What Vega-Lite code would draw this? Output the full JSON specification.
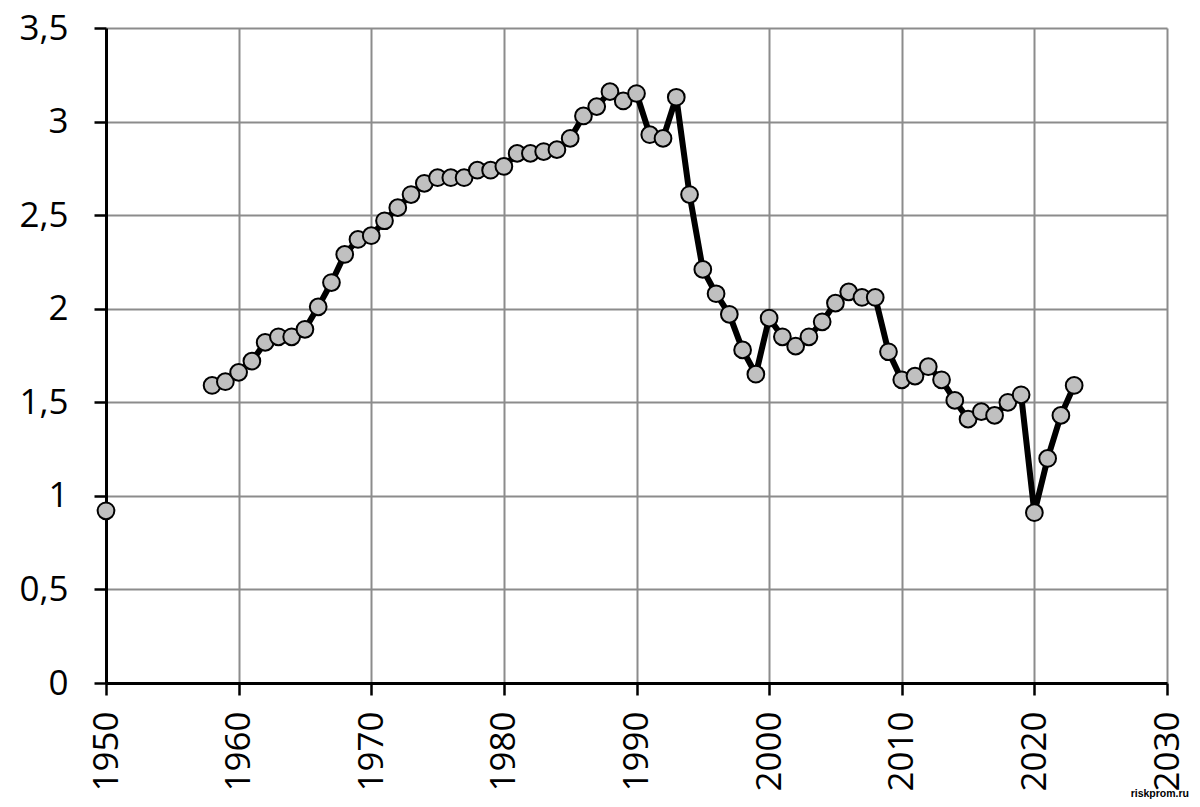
{
  "$schema": "https://vega.github.io/schema/vega-lite/v6.json",
  "width": 1061,
  "height": 655,
  "autosize": {"type": "none"},
  "padding": {"left": 106, "top": 28, "right": 33, "bottom": 124},
  "background": "white",
  "config": {
    "locale": {"number": {"decimal": ",", "thousands": " ", "grouping": [3], "currency": ["", ""]}},
    "view": {"stroke": null},
    "font": "Open Sans"
  },
  "title": {"text": "riskprom.ru", "orient": "bottom", "anchor": "end", "fontSize": 10.5, "fontWeight": "bold", "font": "Liberation Sans", "color": "black", "dx": 4, "dy": -6},
  "data": {"values": [
    {"year": 1950, "value": 0.92},
    {"year": 1958, "value": 1.59},
    {"year": 1959, "value": 1.61},
    {"year": 1960, "value": 1.66},
    {"year": 1961, "value": 1.72},
    {"year": 1962, "value": 1.82},
    {"year": 1963, "value": 1.85},
    {"year": 1964, "value": 1.85},
    {"year": 1965, "value": 1.89},
    {"year": 1966, "value": 2.01},
    {"year": 1967, "value": 2.14},
    {"year": 1968, "value": 2.29},
    {"year": 1969, "value": 2.37},
    {"year": 1970, "value": 2.39},
    {"year": 1971, "value": 2.47},
    {"year": 1972, "value": 2.54},
    {"year": 1973, "value": 2.61},
    {"year": 1974, "value": 2.67},
    {"year": 1975, "value": 2.70},
    {"year": 1976, "value": 2.70},
    {"year": 1977, "value": 2.70},
    {"year": 1978, "value": 2.74},
    {"year": 1979, "value": 2.74},
    {"year": 1980, "value": 2.76},
    {"year": 1981, "value": 2.83},
    {"year": 1982, "value": 2.83},
    {"year": 1983, "value": 2.84},
    {"year": 1984, "value": 2.85},
    {"year": 1985, "value": 2.91},
    {"year": 1986, "value": 3.03},
    {"year": 1987, "value": 3.08},
    {"year": 1988, "value": 3.16},
    {"year": 1989, "value": 3.11},
    {"year": 1990, "value": 3.15},
    {"year": 1991, "value": 2.93},
    {"year": 1992, "value": 2.91},
    {"year": 1993, "value": 3.13},
    {"year": 1994, "value": 2.61},
    {"year": 1995, "value": 2.21},
    {"year": 1996, "value": 2.08},
    {"year": 1997, "value": 1.97},
    {"year": 1998, "value": 1.78},
    {"year": 1999, "value": 1.65},
    {"year": 2000, "value": 1.95},
    {"year": 2001, "value": 1.85},
    {"year": 2002, "value": 1.80},
    {"year": 2003, "value": 1.85},
    {"year": 2004, "value": 1.93},
    {"year": 2005, "value": 2.03},
    {"year": 2006, "value": 2.09},
    {"year": 2007, "value": 2.06},
    {"year": 2008, "value": 2.06},
    {"year": 2009, "value": 1.77},
    {"year": 2010, "value": 1.62},
    {"year": 2011, "value": 1.64},
    {"year": 2012, "value": 1.69},
    {"year": 2013, "value": 1.62},
    {"year": 2014, "value": 1.51},
    {"year": 2015, "value": 1.41},
    {"year": 2016, "value": 1.45},
    {"year": 2017, "value": 1.43},
    {"year": 2018, "value": 1.50},
    {"year": 2019, "value": 1.54},
    {"year": 2020, "value": 0.91},
    {"year": 2021, "value": 1.20},
    {"year": 2022, "value": 1.43},
    {"year": 2023, "value": 1.59}
  ]},
  "encoding": {
    "x": {
      "field": "year", "type": "quantitative",
      "scale": {"domain": [1950, 2030], "nice": false, "zero": false},
      "axis": {
        "title": null, "values": [1950, 1960, 1970, 1980, 1990, 2000, 2010, 2020, 2030],
        "format": "d", "labelAngle": -90, "labelAlign": "right", "labelBaseline": "middle",
        "labelFontSize": 35, "labelColor": "black", "labelPadding": 16,
        "tickSize": 12, "tickColor": "black", "tickWidth": 2.5,
        "domainColor": "black", "domainWidth": 3,
        "gridColor": "#8c8c8c", "gridWidth": 2, "gridOpacity": 1,
        "labelFlush": false, "labelOverlap": false
      }
    },
    "y": {
      "field": "value", "type": "quantitative",
      "scale": {"domain": [0, 3.5], "nice": false},
      "axis": {
        "title": null, "values": [0, 0.5, 1, 1.5, 2, 2.5, 3, 3.5],
        "format": ".1~f", "labelFontSize": 35, "labelColor": "black", "labelPadding": 26,
        "tickSize": 12, "tickColor": "black", "tickWidth": 2.5,
        "domainColor": "black", "domainWidth": 3,
        "gridColor": "#8c8c8c", "gridWidth": 2, "gridOpacity": 1,
        "labelFlush": false, "labelOverlap": false
      }
    }
  },
  "layer": [
    {
      "transform": [{"filter": "datum.year >= 1958"}],
      "mark": {"type": "line", "color": "black", "strokeWidth": 6, "strokeJoin": "round"}
    },
    {
      "mark": {"type": "point", "filled": true, "fill": "#c0c0c0", "stroke": "black", "strokeWidth": 2, "size": 280, "opacity": 1, "shape": "circle"}
    }
  ]
}
